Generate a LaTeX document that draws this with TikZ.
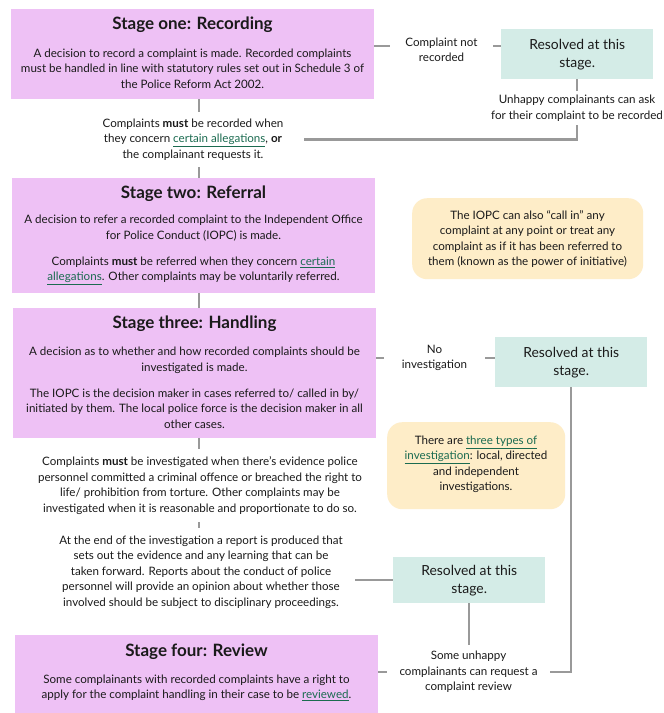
\documentclass[tikz,border=0pt]{standalone}
\usepackage{fontspec}
\setmainfont{Lato}
\definecolor{pinkbox}{HTML}{EEC1F5}
\definecolor{tealbox}{HTML}{D4ECE7}
\definecolor{yelbox}{HTML}{FEEDC8}
\definecolor{linegray}{HTML}{999999}
\definecolor{linkgreen}{HTML}{1B6B50}
\definecolor{txt}{HTML}{1A1A1A}
\newcommand{\lnk}[1]{{\color{linkgreen}\underline{#1}}}
\begin{document}
\begin{tikzpicture}[x=1pt,y=-1pt,
  stagebox/.style={fill=pinkbox,anchor=north west,inner sep=0pt,minimum width=363pt},
  resbox/.style={fill=tealbox,anchor=north west,inner sep=0pt,minimum width=152pt,
    font=\fontsize{13.9}{18}\selectfont,align=center,text=txt},
  notebox/.style={fill=yelbox,rounded corners=15pt,anchor=north west,inner sep=0pt},
  stitle/.style={font=\fontsize{17}{19}\selectfont\bfseries,text=txt,inner sep=0pt},
  body/.style={font=\fontsize{11.6}{15.5}\selectfont,align=center,text=txt,inner sep=0pt},
  connector/.style={draw=linegray,line width=2.5pt}]
\fill[white] (0,0) rectangle (664,713);
\useasboundingbox (0,0) rectangle (664,713);
\coordinate (spine) at (199,0);

% Stage one
\node[stagebox,minimum height=90pt] (s1) at (11,9) {};
\node[stitle] (s1t) at (192.5,25) {Stage one: Recording};
\node[body] (s1b) at (192.5,68.5) {A decision to record a complaint is made. Recorded complaints\\
must be handled in line with statutory rules set out in Schedule 3 of\\
the Police Reform Act 2002.};

\node[resbox,minimum height=50pt] (r1) at (501,29) {Resolved at this\\stage.};
\node[body,minimum width=103pt] (l1) at (441.5,50) {Complaint not\\recorded};
\node[body,inner ysep=4pt] (u1) at (577,108) {Unhappy complainants can ask\\for their complaint to be recorded};

\node[body,minimum width=222pt,inner ysep=7pt] (cm1) at (193,139.5) {Complaints \textbf{must} be recorded when\\
they concern \lnk{certain allegations}, \textbf{or}\\
the complainant requests it.};

% Stage two
\node[stagebox,minimum height=115pt] (s2) at (12,178) {};
\node[stitle] (s2t) at (193.5,194) {Stage two: Referral};
\node[body] (s2b) at (193.5,250) {A decision to refer a recorded complaint to the Independent Office\\
for Police Conduct (IOPC) is made.\\[10.5pt]
Complaints \textbf{must} be referred when they concern \lnk{certain}\\
\lnk{allegations}. Other complaints may be voluntarily referred.};

\node[notebox,minimum width=231pt,minimum height=81pt] (y1) at (412,198) {};
\node[body] (y1t) at (527.5,239) {The IOPC can also “call in” any\\
complaint at any point or treat any\\
complaint as if it has been referred to\\
them (known as the power of initiative)};

% Stage three
\node[stagebox,minimum height=130pt] (s3) at (13,308) {};
\node[stitle] (s3t) at (194.5,324) {Stage three: Handling};
\node[body] (s3b) at (194.5,388) {A decision as to whether and how recorded complaints should be\\
investigated is made.\\[10.5pt]
The IOPC is the decision maker in cases referred to/ called in by/\\
initiated by them. The local police force is the decision maker in all\\
other cases.};

\node[body,minimum width=101pt] (l2) at (434.5,358) {No\\investigation};
\node[resbox,minimum height=50pt] (r2) at (495,337) {Resolved at this\\stage.};

\node[notebox,minimum width=178pt,minimum height=87pt] (y2) at (387,422) {};
\node[body] (y2t) at (476,464.5) {There are \lnk{three types of}\\
\lnk{investigation}: local, directed\\
and independent\\
investigations.};

\node[body,inner ysep=8pt] (cm3) at (200,485.5) {Complaints \textbf{must} be investigated when there’s evidence police\\
personnel committed a criminal offence or breached the right to\\
life/ prohibition from torture. Other complaints may be\\
investigated when it is reasonable and proportionate to do so.};

\node[body,minimum width=308pt,inner ysep=7pt] (cm4) at (201,572) {At the end of the investigation a report is produced that\\
sets out the evidence and any learning that can be\\
taken forward. Reports about the conduct of police\\
personnel will provide an opinion about whether those\\
involved should be subject to disciplinary proceedings.};

\node[resbox,minimum height=46pt] (r3) at (393,557) {Resolved at this\\stage.};

\node[body,minimum width=163pt,inner ysep=6pt] (u2) at (468.5,672) {Some unhappy\\
complainants can request a\\
complaint review};

% Stage four
\node[stagebox,minimum height=80pt] (s4) at (15,635) {};
\node[stitle] (s4t) at (196.5,652) {Stage four: Review};
\node[body] (s4b) at (196.5,688) {Some complainants with recorded complaints have a right to\\
apply for the complaint handling in their case to be \lnk{reviewed}.};

% connectors
\draw[connector] ([yshift=4pt]s1.east |- l1.west) -- ([yshift=4pt]l1.west);
\draw[connector] ([yshift=4pt]l1.east) -- ([yshift=4pt]l1.east -| r1.west);
\draw[connector] (r1.south -| u1.north) -- (u1.north);
\draw[connector] (u1.south) |- (cm1.east);
\draw[connector] (s1.south -| spine) -- (cm1.north -| spine);
\draw[connector] (cm1.south -| spine) -- (s2.north -| spine);
\draw[connector] (s2.south -| spine) -- (s3.north -| spine);
\draw[connector] (s3.east |- l2.west) -- (l2.west);
\draw[connector] (l2.east) -- (l2.east -| r2.west);
\draw[connector] (r2.south) |- (u2.east);
\draw[connector] (s3.south -| spine) -- (cm3.north -| spine);
\draw[connector] (cm3.south -| spine) -- (cm4.north -| spine);
\draw[connector] (r3.west -| cm4.east) -- (r3.west);
\draw[connector] (r3.south) -- (r3.south |- u2.north);
\draw[connector] (u2.west) -- (u2.west -| s4.east);
\end{tikzpicture}
\end{document}
